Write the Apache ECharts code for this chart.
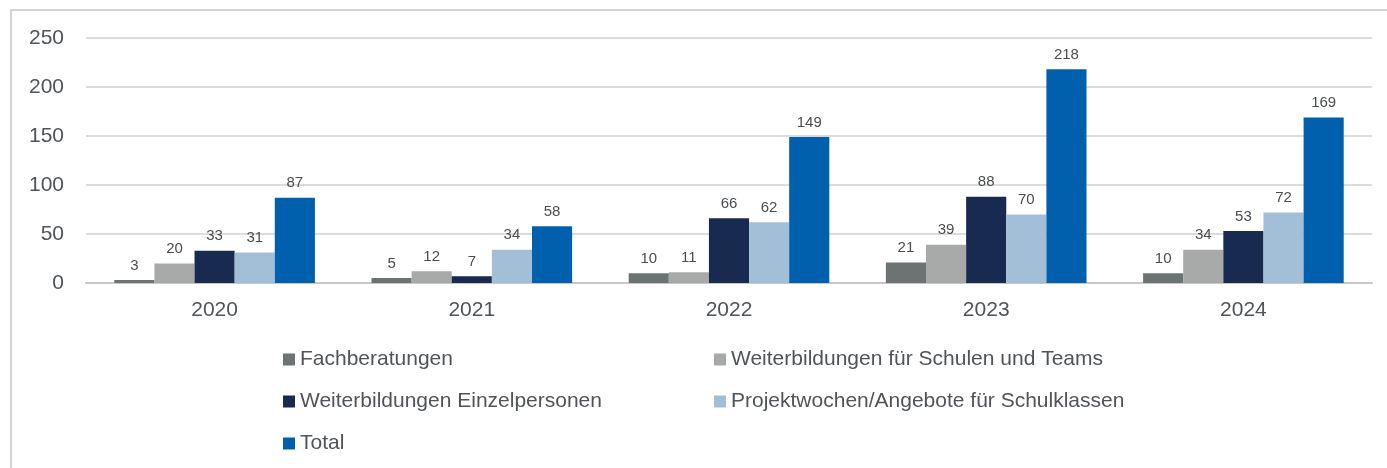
<!DOCTYPE html>
<html>
<head>
<meta charset="utf-8">
<script src="https://cdn.jsdelivr.net/npm/echarts@6/dist/echarts.min.js"></script>
<style>
  html, body { margin: 0; padding: 0; background: #fff; }
  #frame { position: absolute; left: 10px; top: 9px; right: 0; bottom: -5px; border-left: 2px solid #d4d4d4; border-top: 2px solid #d4d4d4; }
  #main { position: absolute; left: 0; top: 0; width: 1387px; height: 468px; }
</style>
</head>
<body>
<div id="frame"></div>
<div id="main"></div>
<script>
const years = ['2020', '2021', '2022', '2023', '2024'];
const fachberatungen = [3, 5, 10, 21, 10];
const schulenTeams = [20, 12, 11, 39, 34];
const einzelpersonen = [33, 7, 66, 88, 53];
const projektwochen = [31, 34, 62, 70, 72];
const total = [87, 58, 149, 218, 169];

const names = [
  'Fachberatungen',
  'Weiterbildungen für Schulen und Teams',
  'Weiterbildungen Einzelpersonen',
  'Projektwochen/Angebote für Schulklassen',
  'Total'
];
const colors = ['#6d7272', '#a7aaa9', '#182a50', '#a3bfd8', '#0060ad'];
const values = [fachberatungen, schulenTeams, einzelpersonen, projektwochen, total];

const font = 'Liberation Sans, Arial, sans-serif';

const legendBase = {
  orient: 'vertical',
  padding: 0,
  itemWidth: 12,
  itemHeight: 12,
  itemGap: 21,
  icon: 'rect',
  textStyle: { fontFamily: font, fontSize: 21, color: '#505458', padding: [0, 0, 0, 0] },
  selectedMode: false
};

const myChart = echarts.init(document.getElementById('main'));
const option = {
  animation: false,
  textStyle: { fontFamily: font },
  grid: { left: 86, right: 15, top: 38, bottom: 185 },
  legend: [
    Object.assign({ left: 283, top: 349, data: [names[0], names[2], names[4]] }, legendBase),
    Object.assign({ left: 714, top: 349, data: [names[1], names[3]] }, legendBase)
  ],
  xAxis: {
    type: 'category',
    data: years,
    axisTick: { show: false },
    axisLine: { lineStyle: { color: '#c8c8c8', width: 2 } },
    axisLabel: { fontSize: 21, color: '#505458', margin: 17 }
  },
  yAxis: {
    type: 'value',
    min: 0,
    max: 250,
    interval: 50,
    axisLabel: { fontSize: 21, color: '#505458', margin: 22 },
    splitLine: { lineStyle: { color: '#dcdcdc', width: 2 } }
  },
  series: names.map((n, i) => ({
    name: n,
    type: 'bar',
    data: values[i],
    barGap: '0%',
    barCategoryGap: '22%',
    itemStyle: { color: colors[i] },
    label: { show: true, position: 'top', fontSize: 15, color: '#4a4d50', distance: 7 }
  }))
};
myChart.setOption(option);
</script>
</body>
</html>
